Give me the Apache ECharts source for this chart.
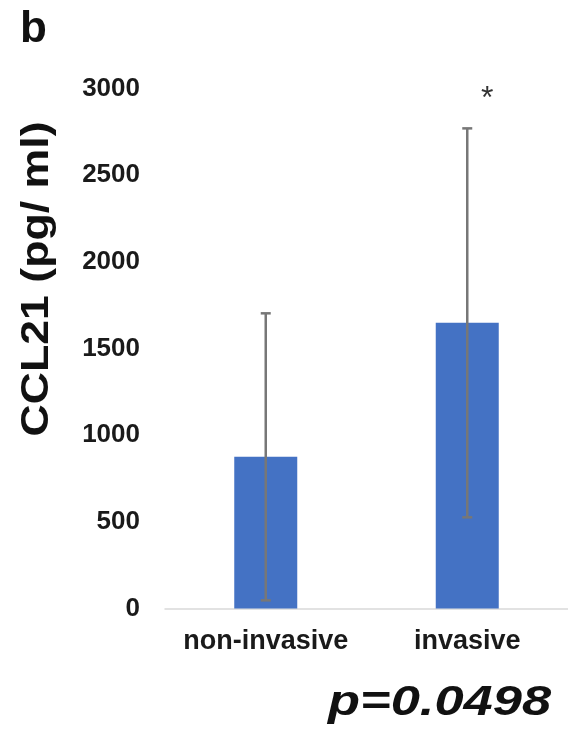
<!DOCTYPE html>
<html>
<head>
<meta charset="utf-8">
<script src="https://cdn.jsdelivr.net/npm/echarts@6/dist/echarts.min.js"></script>
<style>
  html, body { margin: 0; padding: 0; background: #fff; }
  #chart { width: 568px; height: 736px; }
</style>
</head>
<body>
<div id="chart"></div>
<script>
const categories = ["non-invasive", "invasive"];
const means = [875, 1648];
const sds = [828, 1122];
const yTicks = { min: 0, max: 3000, interval: 500 };

const FONT = "'Liberation Sans', Arial, sans-serif";

const chart = echarts.init(document.getElementById("chart"));

const errorData = categories.map((c, i) => [i, means[i] - sds[i], means[i] + sds[i]]);

function renderError(params, api) {
  const x = api.value(0);
  const top = api.coord([x, api.value(2)]);
  const bot = api.coord([x, api.value(1)]);
  const hw = 5;
  const style = { stroke: "#777", lineWidth: 2.5 };
  return {
    type: "group",
    children: [
      { type: "line", shape: { x1: top[0], y1: top[1], x2: bot[0], y2: bot[1] }, style },
      { type: "line", shape: { x1: top[0] - hw, y1: top[1], x2: top[0] + hw, y2: top[1] }, style },
      { type: "line", shape: { x1: bot[0] - hw, y1: bot[1], x2: bot[0] + hw, y2: bot[1] }, style },
    ],
  };
}

const option = {
  animation: false,
  grid: { left: 165, right: 0, top: 88.5, bottom: 127.5 },
  xAxis: {
    type: "category",
    data: categories,
    axisLine: { lineStyle: { color: "#d9d9d9", width: 1.5 } },
    axisTick: { show: false },
    axisLabel: {
      interval: 0,
      margin: 20,
      fontFamily: FONT,
      fontWeight: "bold",
      fontSize: 27,
      color: "#1a1a1a",
    },
  },
  yAxis: {
    type: "value",
    min: yTicks.min,
    max: yTicks.max,
    interval: yTicks.interval,
    axisLine: { show: false },
    axisTick: { show: false },
    splitLine: { show: false },
    axisLabel: {
      margin: 25,
      fontFamily: FONT,
      fontWeight: "bold",
      fontSize: 26,
      color: "#1a1a1a",
      formatter: (v) => String(v),
    },
  },
  series: [
    {
      type: "bar",
      data: means,
      barWidth: 63,
      itemStyle: { color: "#4472C4" },
      markPoint: {
        symbol: "circle",
        symbolSize: 0,
        data: [{ coord: [1, 2940] }],
        label: {
          show: true,
          formatter: "*",
          offset: [20, 0],
          fontFamily: FONT,
          fontSize: 32,
          color: "#333",
        },
      },
    },
    {
      type: "custom",
      data: errorData,
      renderItem: renderError,
      z: 5,
    },
  ],
  graphic: [
    {
      type: "text",
      x: 20,
      y: 8,
      style: { text: "b", font: "bold 44px " + FONT, fill: "#111", textVerticalAlign: "top" },
    },
    {
      type: "text",
      x: 38,
      y: 279,
      rotation: Math.PI / 2,
      scaleX: 1.175,
      style: {
        text: "CCL21 (pg/ ml)",
        font: "bold 38px " + FONT,
        fill: "#111",
        textAlign: "center",
        textVerticalAlign: "middle",
      },
    },
    {
      type: "text",
      x: 328,
      y: 703,
      scaleX: 1.22,
      style: {
        text: "p=0.0498",
        font: "italic bold 43px " + FONT,
        fill: "#111",
        textAlign: "left",
        textVerticalAlign: "middle",
      },
    },
  ],
};

chart.setOption(option);
window.addEventListener("resize", () => chart.resize());
</script>
</body>
</html>
